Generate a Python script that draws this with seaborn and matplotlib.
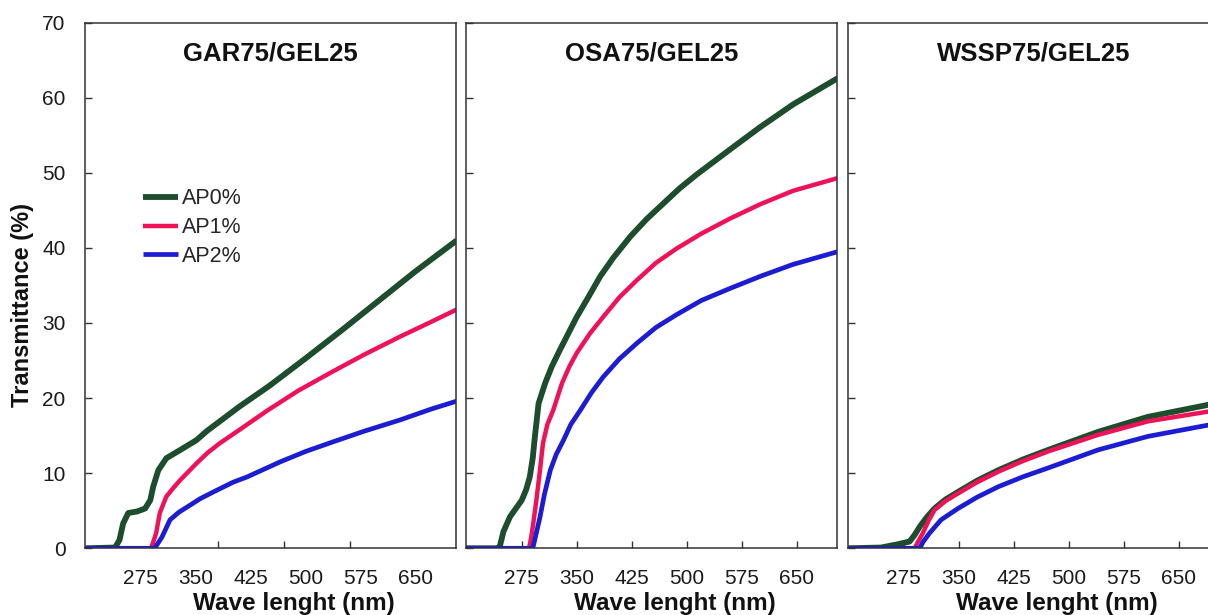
import matplotlib
matplotlib.use("Agg")
import matplotlib.pyplot as plt
import pandas as pd
import seaborn as sns

sns.set_theme(style="white")
plt.rcParams["font.family"] = ["Liberation Sans", "DejaVu Sans"]

# ---- data: wavelength (nm) and transmittance (%) per film and AP content ----
series_labels = ["AP0%", "AP1%", "AP2%"]
panel_titles = ["GAR75/GEL25", "OSA75/GEL25", "WSSP75/GEL25"]
x_tick_labels = [275, 350, 425, 500, 575, 650]
y_tick_labels = [0, 10, 20, 30, 40, 50, 60, 70]

gar_ap0_nm = [199, 240, 246, 251, 258, 270, 281, 288, 292, 299, 310, 329, 351, 365,
              380, 410, 450, 500, 550, 600, 650, 706]
gar_ap0_t = [0, 0.1, 1.1, 3.3, 4.7, 4.9, 5.3, 6.4, 8.2, 10.4, 12.0, 13.1, 14.4, 15.6,
             16.7, 18.9, 21.6, 25.3, 29.1, 33.0, 36.9, 41.0]
gar_ap1_nm = [199, 289, 292, 296, 301, 310, 320, 329, 340, 351, 366, 383, 410, 447,
              490, 538, 580, 629, 670, 706]
gar_ap1_t = [0, 0, 0.8, 2.0, 4.7, 6.9, 8.1, 9.1, 10.2, 11.3, 12.7, 14.0, 15.8, 18.3,
             21.0, 23.6, 25.8, 28.2, 30.1, 31.8]
gar_ap2_nm = [199, 294, 298, 304, 315, 327, 340, 356, 374, 401, 420, 465, 500, 538,
              580, 629, 670, 706]
gar_ap2_t = [0, 0, 0.6, 1.5, 3.8, 4.8, 5.6, 6.6, 7.5, 8.8, 9.5, 11.5, 12.9, 14.2,
             15.6, 17.1, 18.5, 19.6]

osa_ap0_nm = [199, 242, 245, 250, 259, 267, 275, 281, 286, 290, 293, 298, 307, 316,
              327, 350, 365, 382, 400, 423, 445, 468, 490, 514, 559, 599, 645, 706]
osa_ap0_t = [0, 0, 0.2, 2.2, 4.2, 5.3, 6.4, 7.8, 9.5, 12.0, 14.9, 19.3, 22.0, 24.2,
             26.4, 30.8, 33.3, 36.2, 38.7, 41.5, 43.8, 45.9, 47.9, 49.8, 53.1, 56.0,
             59.1, 62.6]
osa_ap1_nm = [199, 285, 288, 291, 295, 300, 304, 310, 318, 330, 340, 350, 368, 386,
              408, 432, 458, 486, 520, 559, 600, 645, 706]
osa_ap1_t = [0, 0, 1.5, 3.5, 6.4, 10.5, 14.0, 16.5, 18.4, 22.0, 24.2, 26.0, 28.6, 30.8,
             33.4, 35.7, 38.0, 39.9, 41.9, 43.9, 45.8, 47.6, 49.3]
osa_ap2_nm = [199, 290, 292, 296, 300, 306, 314, 322, 332, 342, 355, 370, 386, 408,
              432, 458, 486, 520, 559, 600, 645, 706]
osa_ap2_t = [0, 0, 0.8, 2.5, 4.2, 7.2, 10.4, 12.5, 14.4, 16.5, 18.4, 20.7, 22.8, 25.2,
             27.3, 29.4, 31.1, 33.0, 34.6, 36.2, 37.8, 39.5]

wssp_ap0_nm = [199, 244, 265, 283, 290, 297, 307, 317, 332, 349, 375, 404, 437, 472,
               540, 608, 690, 706]
wssp_ap0_t = [0, 0.1, 0.5, 0.9, 1.8, 2.9, 4.2, 5.3, 6.5, 7.5, 9.0, 10.4, 11.8, 13.1,
              15.5, 17.5, 19.1, 19.5]
wssp_ap1_nm = [199, 290, 294, 301, 309, 317, 332, 349, 375, 404, 437, 472, 540, 608,
               690, 706]
wssp_ap1_t = [0, 0, 0.8, 2.0, 3.7, 5.1, 6.3, 7.3, 8.8, 10.2, 11.6, 12.9, 15.1, 16.9,
              18.2, 18.5]
wssp_ap2_nm = [199, 297, 301, 310, 326, 349, 375, 404, 437, 472, 540, 608, 690, 706]
wssp_ap2_t = [0, 0, 0.8, 2.0, 3.8, 5.3, 6.8, 8.2, 9.5, 10.7, 13.1, 14.9, 16.4, 16.7]

panel_data = [
    [(gar_ap0_nm, gar_ap0_t), (gar_ap1_nm, gar_ap1_t), (gar_ap2_nm, gar_ap2_t)],
    [(osa_ap0_nm, osa_ap0_t), (osa_ap1_nm, osa_ap1_t), (osa_ap2_nm, osa_ap2_t)],
    [(wssp_ap0_nm, wssp_ap0_t), (wssp_ap1_nm, wssp_ap1_t), (wssp_ap2_nm, wssp_ap2_t)],
]

# ---- styling ----
colors = ["#1d4d2c", "#f01258", "#1c1cd2"]
widths = [4.2, 3.2, 3.4]
spine_col = "#333333"

W, H = 1208, 615
fig = plt.figure(figsize=(W / 100, H / 100), dpi=100)
fig.patch.set_facecolor("white")

ax_lefts = [85, 466, 848]
ax_bottom_px, ax_top_px, ax_w_px = 548.3, 22.6, 371

for i, (title, series) in enumerate(zip(panel_titles, panel_data)):
    ax = fig.add_axes([ax_lefts[i] / W, (H - ax_bottom_px) / H,
                       ax_w_px / W, (ax_bottom_px - ax_top_px) / H])
    for j, (nm, t) in enumerate(series):
        df = pd.DataFrame({"Wavelength": nm, "Transmittance": t})
        sns.lineplot(data=df, x="Wavelength", y="Transmittance", ax=ax,
                     color=colors[j], linewidth=widths[j], estimator=None,
                     sort=False, label=series_labels[j] if i == 0 else None,
                     legend=(i == 0), solid_joinstyle="round",
                     solid_capstyle="butt")
    ax.set_xlim(199, 705)
    ax.set_ylim(0, 70)
    ax.set_yticks(y_tick_labels)
    ax.set_xticks(x_tick_labels)
    ax.set_xticklabels([str(v) for v in x_tick_labels])

    for sp in ax.spines.values():
        sp.set_color(spine_col)
        sp.set_linewidth(1.1)
        sp.set_visible(True)

    ax.tick_params(axis="both", which="both", direction="in", colors=spine_col,
                   labelcolor="#1a1a1a", labelsize=15, width=1.0,
                   bottom=True, left=True, top=False, right=False)
    ax.tick_params(axis="x", which="major", length=5, pad=15)
    ax.tick_params(axis="y", which="major", length=5, pad=14)

    if i == 0:
        # first panel: tick marks every 90 nm, labels every 75 nm
        ax.tick_params(axis="x", which="major", length=0)
        ax.set_xticks([290, 380, 470, 560, 650], minor=True)
        ax.tick_params(axis="x", which="minor", length=5, direction="in",
                       width=1.0, colors=spine_col)
        ax.set_ylabel("Transmittance (%)", fontsize=17, fontweight="bold",
                      color="#111111")
        ax.yaxis.set_label_coords(-0.138, 0.463)
        ax.legend(loc="center left", bbox_to_anchor=(0.156, 0.610), frameon=False,
                  fontsize=15.5, handlelength=1.65, handletextpad=0.15,
                  labelspacing=0.36, borderpad=0, borderaxespad=0)
    else:
        ax.set_ylabel("")
        ax.set_yticklabels([])

    ax.set_xlabel("Wave lenght (nm)", fontsize=17.5, fontweight="bold",
                  color="#111111")
    ax.xaxis.set_label_coords(0.562, -0.083)
    ax.text(0.5, 0.942, title, transform=ax.transAxes, ha="center", va="center",
            fontsize=18.5, fontweight="bold", color="#111111")
    ax.grid(False)

fig.savefig("out.png", dpi=100, facecolor="white")
